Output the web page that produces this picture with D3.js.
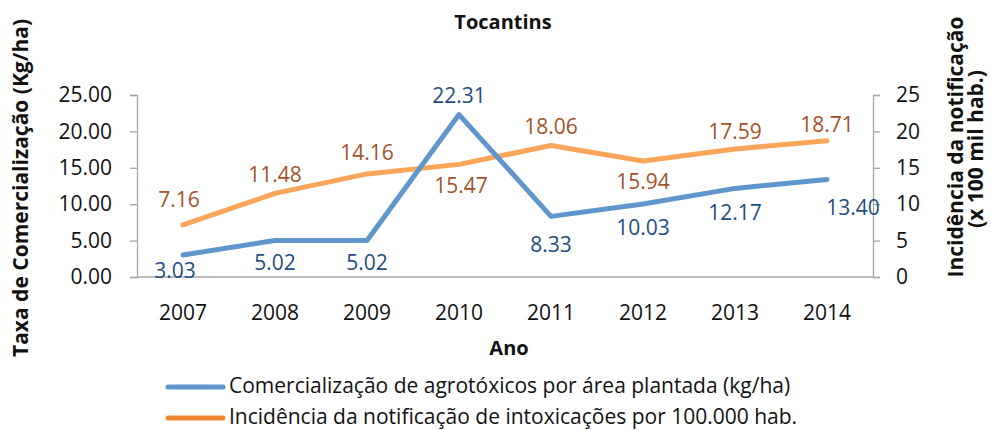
<!DOCTYPE html>
<html>
<head>
<meta charset="utf-8">
<script src="https://cdn.jsdelivr.net/npm/d3@7"></script>
<style>
  body { margin: 0; background: #fff; }
  svg text { font-family: "Open Sans", "Noto Sans", sans-serif; }
</style>
</head>
<body>
<div id="chart"></div>
<script>
// data
const years = ["2007", "2008", "2009", "2010", "2011", "2012", "2013", "2014"];
const comercializacao = [3.03, 5.02, 5.02, 22.31, 8.33, 10.03, 12.17, 13.40];
const incidencia = [7.16, 11.48, 14.16, 15.47, 18.06, 15.94, 17.59, 18.71];
const leftTicks = [0, 5, 10, 15, 20, 25];
const rightTicks = [0, 5, 10, 15, 20, 25];

// value label nudges (px) relative to each point, as placed in the original
const blueLabelDx = [-8, 0, 0, 0, 0, 0, 0, 26];
const blueLabelDy = [23, 30, 30, -12, 36, 31, 32, 36];
const orangeLabelDx = [-4, 0, 0, 2, 0, 0, 0, 0];
const orangeLabelDy = [-18, -11, -14, 29, -12, 28, -10, -9];

const w = 991, h = 430;
const plotL = 137, plotR = 873, plotT = 95, plotB = 277;
const fs = 21;

const svg = d3.select("#chart").append("svg")
  .attr("width", w).attr("height", h);

const x = d3.scaleBand().domain(years).range([plotL, plotR]);
const yL = d3.scaleLinear().domain([0, 25]).range([plotB, plotT]);
const yR = d3.scaleLinear().domain([0, 25]).range([plotB, plotT]);
const cx = i => x(years[i]) + x.bandwidth() / 2;

const axisColor = "#a6a6a6";

// left axis
const gL = svg.append("g").attr("transform", `translate(${plotL},0)`)
  .call(d3.axisLeft(yL).tickValues(leftTicks).tickFormat(d3.format(".2f")).tickSize(7).tickPadding(18));
// right axis
const gR = svg.append("g").attr("transform", `translate(${plotR},0)`)
  .call(d3.axisRight(yR).tickValues(rightTicks).tickFormat(d3.format("d")).tickSize(7).tickPadding(16));
// x axis
const gX = svg.append("g").attr("transform", `translate(0,${plotB})`)
  .call(d3.axisBottom(x).tickSize(0).tickPadding(28));

[gL, gR, gX].forEach(g => {
  g.selectAll("path, line").attr("stroke", axisColor).attr("stroke-width", 1.3);
  g.selectAll("text").attr("font-size", fs).attr("fill", "#111");
});
gX.select(".domain").attr("d", `M${plotL},0H${plotR}`);

// lines
const blueLine = d3.line().x((d, i) => cx(i)).y(d => yL(d));
const orangeLine = d3.line().x((d, i) => cx(i)).y(d => yR(d));

svg.append("path").datum(incidencia).attr("d", orangeLine)
  .attr("fill", "none").attr("stroke", "#f9a65a").attr("stroke-width", 5)
  .attr("stroke-linejoin", "round").attr("stroke-linecap", "round");
svg.append("path").datum(comercializacao).attr("d", blueLine)
  .attr("fill", "none").attr("stroke", "#6196cc").attr("stroke-width", 5)
  .attr("stroke-linejoin", "round").attr("stroke-linecap", "round");

// value labels
svg.append("g").selectAll("text").data(incidencia).join("text")
  .attr("x", (d, i) => cx(i) + orangeLabelDx[i])
  .attr("y", (d, i) => yR(d) + orangeLabelDy[i])
  .attr("text-anchor", "middle").attr("font-size", fs).attr("fill", "#a3522a")
  .text(d => d3.format(".2f")(d));

svg.append("g").selectAll("text").data(comercializacao).join("text")
  .attr("x", (d, i) => cx(i) + blueLabelDx[i])
  .attr("y", (d, i) => yL(d) + blueLabelDy[i])
  .attr("text-anchor", "middle").attr("font-size", fs).attr("fill", "#1f4e7f")
  .text(d => d3.format(".2f")(d));

// titles
svg.append("text").attr("x", 503).attr("y", 29).attr("text-anchor", "middle")
  .attr("font-size", 20).attr("font-weight", "bold").attr("fill", "#111").text("Tocantins");

svg.append("text").attr("x", 509).attr("y", 355).attr("text-anchor", "middle")
  .attr("font-size", 20).attr("font-weight", "bold").attr("fill", "#111").text("Ano");

svg.append("text").attr("transform", "translate(28,188) rotate(-90)").attr("text-anchor", "middle")
  .attr("font-size", 21).attr("font-weight", "bold").attr("fill", "#111")
  .text("Taxa de Comercialização (Kg/ha)");

svg.append("text").attr("transform", "translate(963,147) rotate(-90)").attr("text-anchor", "middle")
  .attr("font-size", 21).attr("font-weight", "bold").attr("fill", "#111")
  .text("Incidência da notificação");
svg.append("text").attr("transform", "translate(983,149) rotate(-90)").attr("text-anchor", "middle")
  .attr("font-size", 21).attr("font-weight", "bold").attr("fill", "#111")
  .text("(x 100 mil hab.)");

// legend
const legendItems = [
  { label: "Comercialização de agrotóxicos por área plantada (kg/ha)", color: "#6196cc" },
  { label: "Incidência da notificação de intoxicações por 100.000 hab.", color: "#ee8a2e" }
];
const lg = svg.append("g").selectAll("g").data(legendItems).join("g")
  .attr("transform", (d, i) => `translate(168,${387 + i * 31})`);
lg.append("line").attr("x1", 0).attr("x2", 55).attr("y1", 0).attr("y2", 0)
  .attr("stroke", d => d.color).attr("stroke-width", 5).attr("stroke-linecap", "round");
lg.append("text").attr("x", 61).attr("y", 6).attr("font-size", fs).attr("fill", "#111")
  .text(d => d.label);
</script>
</body>
</html>
